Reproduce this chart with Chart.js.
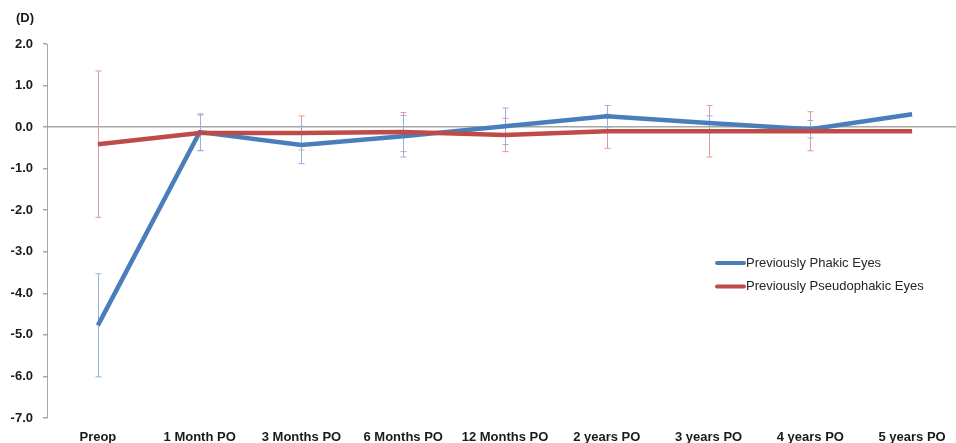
<!DOCTYPE html>
<html>
<head>
<meta charset="utf-8">
<script src="https://cdn.jsdelivr.net/npm/chart.js@4.4.3/dist/chart.umd.min.js"></script>
<style>
  html, body { margin: 0; padding: 0; overflow: hidden; background: #fff; }
  #wrap { width: 963px; height: 443px; position: relative; }
</style>
</head>
<body>
<div id="wrap"><canvas id="refraction-chart"></canvas></div>
<script>
// data (diopters, mean +/- SD)
const labels = ["Preop", "1 Month PO", "3 Months PO", "6 Months PO", "12 Months PO",
  "2 years PO", "3 years PO", "4 years PO", "5 years PO"];
const phakic = [-4.77, -0.12, -0.43, -0.22, 0.02, 0.26, 0.10, -0.05, 0.31];
const phakicSD = [1.24, 0.44, 0.45, 0.50, 0.44, 0.26, 0.17, 0.21, null];
const pseudophakic = [-0.41, -0.14, -0.14, -0.12, -0.19, -0.10, -0.10, -0.10, -0.10];
const pseudophakicSD = [1.76, 0.43, 0.41, 0.47, 0.40, 0.41, 0.62, 0.47, null];
const yTicks = [2, 1, 0, -1, -2, -3, -4, -5, -6, -7];

const BLUE = "#4a7ebb";
const RED = "#be4b48";
const FONT = "'Liberation Sans', Arial, sans-serif";

// error bars drawn through the y scale
const errorBars = {
  id: "errorBars",
  beforeDatasetsDraw(chart) {
    const { ctx } = chart;
    const y = chart.scales.y;
    chart.data.datasets.forEach((ds, di) => {
      const meta = chart.getDatasetMeta(di);
      ctx.save();
      ctx.strokeStyle = ds.errColor;
      ctx.lineWidth = 1;
      meta.data.forEach((pt, i) => {
        const sd = ds.sd[i];
        if (sd == null) return;
        const v = ds.data[i];
        const top = y.getPixelForValue(v + sd);
        const bot = y.getPixelForValue(v - sd);
        const x = Math.round(pt.x) + 0.5;
        ctx.beginPath();
        ctx.moveTo(x, top); ctx.lineTo(x, bot);
        ctx.moveTo(x - 3, top); ctx.lineTo(x + 3, top);
        ctx.moveTo(x - 3, bot); ctx.lineTo(x + 3, bot);
        ctx.stroke();
      });
      ctx.restore();
    });
  },
};

// legend inside the plot + unit label
const sideLegend = {
  id: "sideLegend",
  afterDraw(chart) {
    const { ctx } = chart;
    ctx.save();
    ctx.font = "bold 13px " + FONT;
    ctx.fillStyle = "#1a1a1a";
    ctx.textBaseline = "middle";
    ctx.fillText("(D)", 16, 18);
    ctx.font = "13px " + FONT;
    const items = [chart.data.datasets[1], chart.data.datasets[0]];
    items.forEach((ds, i) => {
      const ly = 263 + i * 23.5;
      ctx.strokeStyle = ds.borderColor;
      ctx.lineWidth = 4;
      ctx.lineCap = "round";
      ctx.beginPath();
      ctx.moveTo(717, ly); ctx.lineTo(744, ly);
      ctx.stroke();
      ctx.fillStyle = "#262626";
      ctx.fillText(ds.label, 746, ly);
    });
    ctx.restore();
  },
};

new Chart(document.getElementById("refraction-chart"), {
  type: "line",
  data: {
    labels,
    datasets: [
      {
        label: "Previously Pseudophakic Eyes",
        data: pseudophakic,
        sd: pseudophakicSD,
        errColor: "#e39a98",
        borderColor: RED,
        borderWidth: 4.5,
        pointRadius: 0,
        tension: 0,
        order: 1,
      },
      {
        label: "Previously Phakic Eyes",
        data: phakic,
        sd: phakicSD,
        errColor: "#93b3dc",
        borderColor: BLUE,
        borderWidth: 4.5,
        pointRadius: 0,
        tension: 0,
        order: 2,
      },
    ],
  },
  options: {
    responsive: true,
    maintainAspectRatio: false,
    animation: false,
    layout: { padding: { top: 44, left: 0, right: 0, bottom: 0 } },
    plugins: { legend: { display: false }, tooltip: { enabled: false } },
    scales: {
      x: {
        offset: true,
        grid: { display: false, drawTicks: false },
        border: { display: false },
        ticks: {
          padding: 12,
          maxRotation: 0,
          autoSkip: false,
          color: "#1a1a1a",
          font: { family: FONT, size: 13, weight: "bold" },
        },
        afterFit(s) { s.height = 25; },
      },
      y: {
        min: -7,
        max: 2,
        afterBuildTicks(s) { s.ticks = yTicks.map(v => ({ value: v })); },
        grid: {
          color: c => (c.tick && c.tick.value === 0 ? "#a6a6a6" : "transparent"),
          lineWidth: 1.5,
          tickColor: "#a6a6a6",
          tickLength: 4,
        },
        border: { display: true, color: "#a6a6a6", width: 1 },
        ticks: {
          padding: 10,
          color: "#1a1a1a",
          font: { family: FONT, size: 13, weight: "bold" },
          callback: v => v.toFixed(1),
        },
        afterFit(s) { s.width = 47; },
      },
    },
  },
  plugins: [errorBars, sideLegend],
});
</script>
</body>
</html>
